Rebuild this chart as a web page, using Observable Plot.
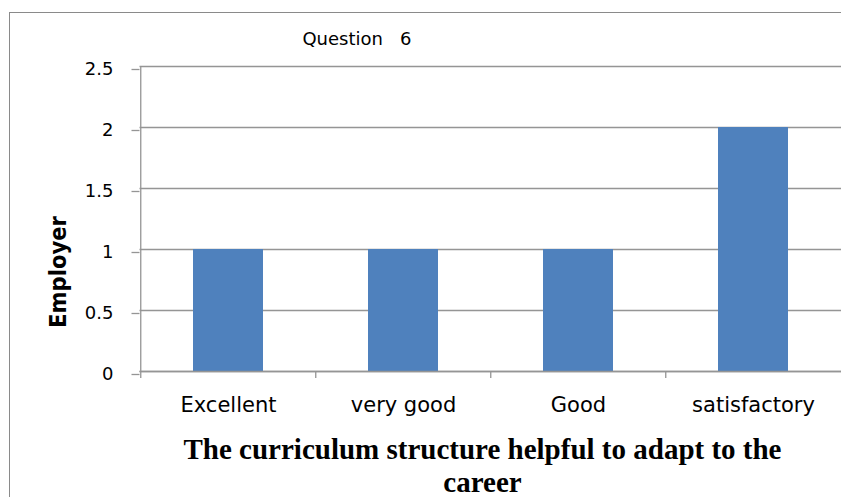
<!DOCTYPE html>
<html>
<head>
<meta charset="utf-8">
<script src="https://cdn.jsdelivr.net/npm/d3@7"></script>
<script src="https://cdn.jsdelivr.net/npm/@observablehq/plot@0.6"></script>
<style>
  html, body { margin: 0; padding: 0; background: #fff; }
  #wrap { position: relative; width: 841px; height: 497px; overflow: hidden; }
  #border { position: absolute; left: 9px; top: 12px; width: 1000px; height: 1000px; border-left: 1.3px solid #8a8a8a; border-top: 1.3px solid #8a8a8a; pointer-events: none; }
  .lbl { position: absolute; white-space: pre; line-height: 1; }
  #title { font-family: "DejaVu Sans", sans-serif; font-size: 18px; left: 357px; top: 30px; transform: translateX(-50%); color: #000; }
  #ylab { font-family: "DejaVu Sans Condensed", "DejaVu Sans", sans-serif; font-weight: bold; font-size: 23.5px; left: 59px; top: 272px; transform: translate(-50%, -50%) rotate(-90deg); color: #000; }
  .xl { font-family: "Liberation Serif", "Times New Roman", serif; font-weight: bold; font-size: 29px; left: 482.5px; transform: translateX(-50%); text-align: center; color: #000; }
  #xlab1 { top: 435px; }
  #xlab2 { top: 467.5px; }
</style>
</head>
<body>
<div id="wrap">
  <div id="chart"></div>
  <div id="border"></div>
  <div id="title" class="lbl"></div>
  <div id="ylab" class="lbl"></div>
  <div id="xlab1" class="lbl xl"></div>
  <div id="xlab2" class="lbl xl"></div>
</div>
<script>
const categories = ["Excellent", "very good", "Good", "satisfactory"];
const values = [1, 1, 1, 2];
const yTicks = [0, 0.5, 1, 1.5, 2, 2.5];
const titleText = "Question   6";
const yLabel = "Employer";
const xLabelLines = ["The curriculum structure helpful to adapt to the", "career"];

const data = categories.map((c, i) => ({category: c, value: values[i]}));
const gridColor = "#959595";
const step = (841.5 - 139.5) / categories.length;

const chart = Plot.plot({
  width: 841,
  height: 497,
  marginLeft: 139.5,
  marginRight: 0,
  marginTop: 66,
  marginBottom: 126,
  style: {fontFamily: "DejaVu Sans, sans-serif", color: "#000", background: "#fff", overflow: "hidden"},
  x: {type: "band", domain: categories, range: [139.5, 841.5], paddingInner: 0.6, paddingOuter: 0.3, label: null},
  y: {domain: [0, 2.5], range: [371, 66], label: null},
  marks: [
    Plot.gridY(yTicks, {stroke: gridColor, strokeOpacity: 1, strokeWidth: 1.3}),
    Plot.barY(data, {x: "category", y: "value", fill: "#4F81BD"}),
    Plot.ruleY([0], {stroke: gridColor, strokeWidth: 1.3}),
    Plot.axisY(yTicks, {tickSize: 8, tickPadding: 18.5, stroke: gridColor, strokeWidth: 1.3, fontSize: 18, dy: 3, tickFormat: d => String(d), label: null}),
    Plot.axisX({tickSize: 0, tickPadding: 26, fontSize: 21, label: null}),
    Plot.axisX({tickSize: 7, tickFormat: () => "", dx: -step / 2, stroke: gridColor, strokeWidth: 1.3, label: null}),
    Plot.ruleX([categories[0]], {dx: -step / 2, y1: 0, y2: 2.5, stroke: gridColor, strokeWidth: 1.3})
  ]
});
document.getElementById("chart").appendChild(chart);
document.getElementById("title").textContent = titleText;
document.getElementById("ylab").textContent = yLabel;
document.getElementById("xlab1").textContent = xLabelLines[0];
document.getElementById("xlab2").textContent = xLabelLines[1];
</script>
</body>
</html>
